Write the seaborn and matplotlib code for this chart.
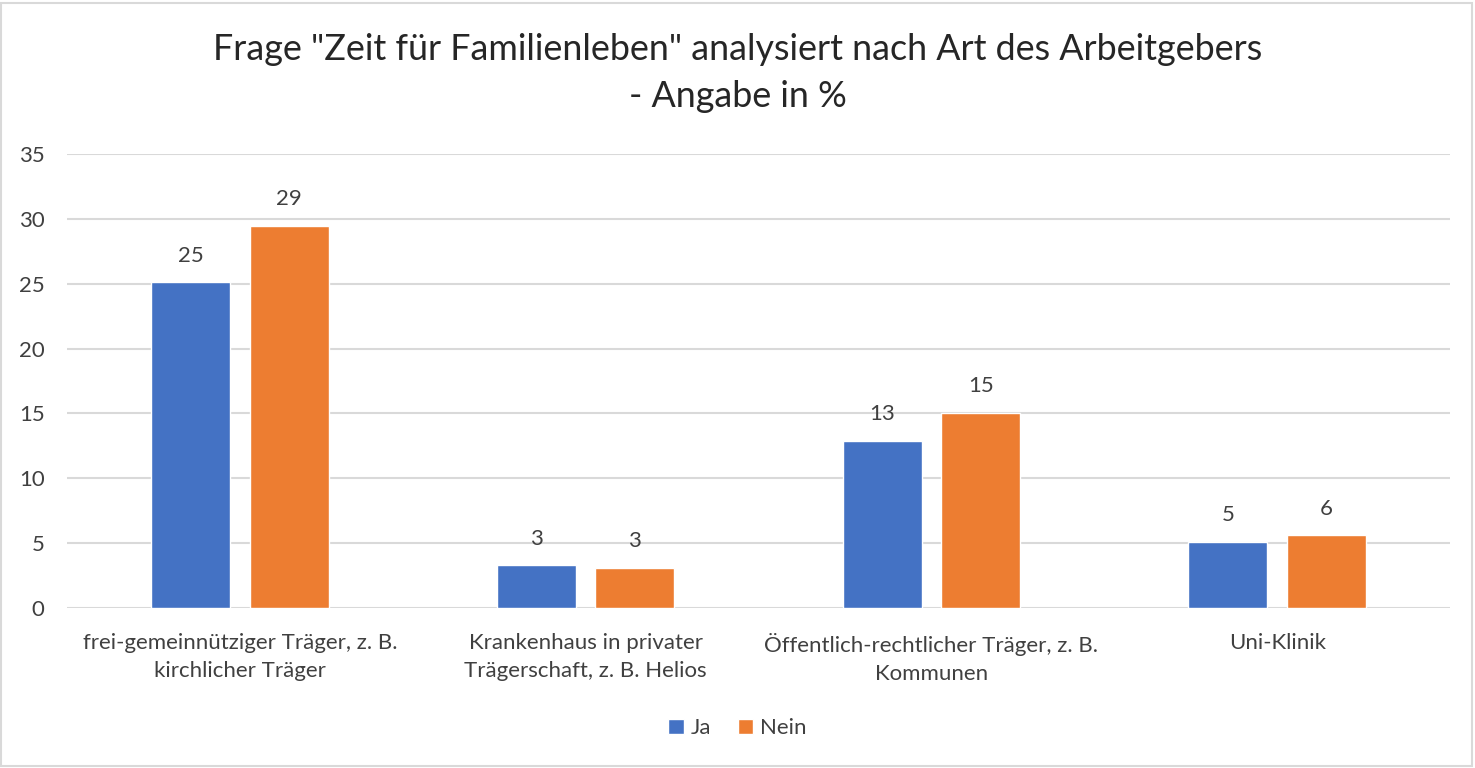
import pandas as pd
import matplotlib
matplotlib.use("Agg")
import matplotlib.pyplot as plt
from matplotlib.patches import Rectangle
import seaborn as sns

# data
categories = [
    "frei-gemeinnütziger Träger, z. B.\nkirchlicher Träger",
    "Krankenhaus in privater\nTrägerschaft, z. B. Helios",
    "Öffentlich-rechtlicher Träger, z. B.\nKommunen",
    "Uni-Klinik",
]
ja = [25.1, 3.3, 12.9, 5.1]
nein = [29.45, 3.1, 15.05, 5.6]
series = ["Ja", "Nein"]
colors = ["#4472C4", "#ED7D31"]

df = pd.DataFrame({
    "Art": categories * 2,
    "Antwort": ["Ja"] * 4 + ["Nein"] * 4,
    "Wert": ja + nein,
})

sns.set_theme(style="white")
plt.rcParams["font.family"] = ["Lato", "DejaVu Sans"]

fig = plt.figure(figsize=(14.75, 7.68), dpi=100)
ax = fig.add_axes([0.0454, 0.2083, 0.9377, 0.5911])

sns.barplot(data=df, x="Art", y="Wert", hue="Antwort", order=categories,
            hue_order=series, palette=colors, width=0.57, gap=0.2,
            saturation=1, ax=ax, legend=True)

for cont in ax.containers:
    ax.bar_label(cont, fmt="{:.0f}", padding=12, fontsize=16, color="#404040")

ax.set_ylim(0, 35)
ax.set_yticks(range(0, 36, 5))
ax.set_xlim(-0.5, 3.5)
ax.yaxis.grid(True, color="#D9D9D9", linewidth=1.5)
ax.set_axisbelow(True)
for s in ax.spines.values():
    s.set_visible(False)
ax.tick_params(axis="both", length=0, labelsize=16, labelcolor="#404040")
ax.tick_params(axis="y", pad=16)
ax.tick_params(axis="x", pad=18)
for t in ax.get_xticklabels():
    t.set_linespacing(1.5)
ax.set_xlabel("")
ax.set_ylabel("")

ax.get_legend().remove()
handles, labels = ax.get_legend_handles_labels()
fig.legend(handles, labels, loc="center", bbox_to_anchor=(0.5, 0.052),
           ncol=2, frameon=False, fontsize=16, handlelength=0.7,
           handleheight=0.7, handletextpad=0.3, columnspacing=1.2,
           labelcolor="#404040")

fig.text(0.5, 0.905, 'Frage "Zeit für Familienleben" analysiert nach Art des Arbeitgebers\n- Angabe in %',
         ha="center", va="center", fontsize=25.8, color="#262626", linespacing=1.55)

fig.patches.append(Rectangle((0.001, 0.002), 0.997, 0.994, transform=fig.transFigure,
                             fill=False, edgecolor="#D9D9D9", linewidth=1.5))

fig.savefig("out.png", dpi=100)
